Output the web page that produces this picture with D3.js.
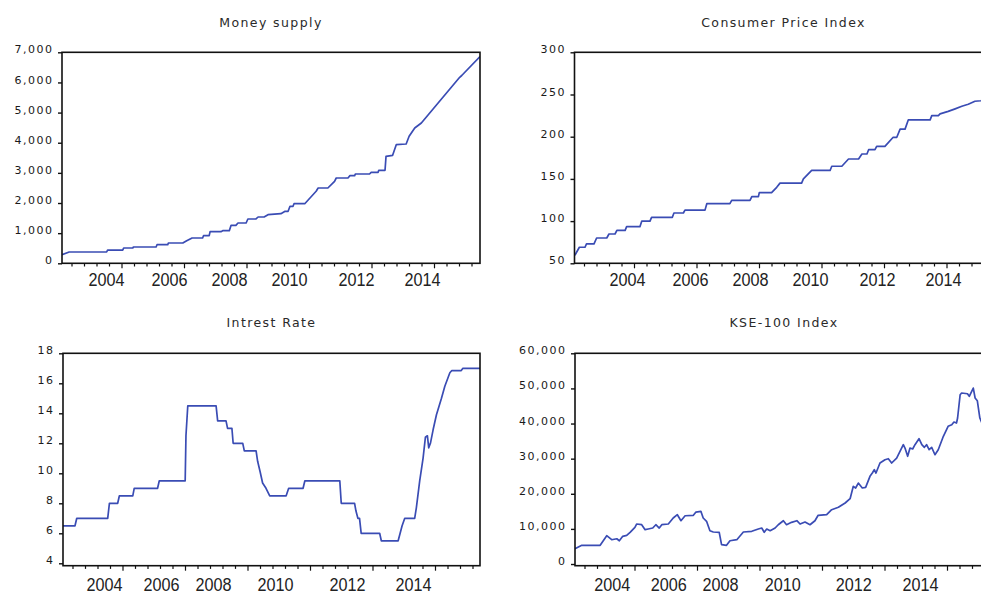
<!DOCTYPE html>
<html>
<head>
<meta charset="utf-8">
<script src="https://cdn.jsdelivr.net/npm/d3@7"></script>
<style>
  html, body { margin: 0; padding: 0; background: #fff; }
  svg { display: block; }
</style>
</head>
<body>
<svg id="chart" width="981" height="594"></svg>
<script>
// ---------------- DATA ----------------
const yearLabels = [2004, 2006, 2008, 2010, 2012, 2014];
const yearAnchors = [2002.6, 2004, 2006, 2008, 2010, 2012, 2014, 2016];

const moneyYears = [2002.6, 2002.83, 2004.02, 2004.05, 2004.53, 2004.56, 2004.85, 2004.87, 2005.59, 2005.62,
  2005.96, 2005.98, 2006.46, 2006.59, 2006.77, 2007.12, 2007.15, 2007.34, 2007.37, 2007.73,
  2007.79, 2008.01, 2008.07, 2008.23, 2008.3, 2008.57, 2008.63, 2008.9, 2008.97, 2009.17,
  2009.3, 2009.73, 2009.87, 2009.97, 2010.03, 2010.12, 2010.15, 2010.47, 2010.81, 2010.87,
  2011.16, 2011.36, 2011.41, 2011.76, 2011.82, 2011.96, 2011.98, 2012.41, 2012.46, 2012.67,
  2012.69, 2012.88, 2012.91, 2013.11, 2013.22, 2013.52, 2013.61, 2013.78, 2013.98, 2015.3,
  2015.37, 2016.0];
const moneyValues = [285, 375, 375, 440, 440, 507, 507, 540, 540, 617,
  617, 673, 673, 750, 840, 840, 916, 916, 1050, 1050,
  1082, 1082, 1260, 1260, 1337, 1337, 1470, 1470, 1536, 1536,
  1612, 1646, 1725, 1725, 1891, 1891, 1977, 1977, 2389, 2498,
  2498, 2720, 2830, 2830, 2907, 2907, 2963, 2963, 3019, 3019,
  3086, 3086, 3550, 3583, 3935, 3958, 4213, 4489, 4655, 6171,
  6230, 6860];

const cpiYears = [2002.61, 2002.73, 2002.88, 2002.92, 2003.12, 2003.19, 2003.46, 2003.52, 2003.68, 2003.73,
  2003.95, 2003.99, 2004.41, 2004.47, 2004.73, 2004.78, 2005.44, 2005.49, 2005.79, 2005.84,
  2006.5, 2006.56, 2007.33, 2007.39, 2008.0, 2008.06, 2008.28, 2008.31, 2008.72, 2008.89,
  2009.0, 2009.72, 2009.78, 2010.05, 2010.6, 2010.65, 2010.95, 2011.15, 2011.45, 2011.55,
  2011.7, 2011.75, 2011.94, 2011.99, 2012.24, 2012.49, 2012.6, 2012.7, 2012.85, 2012.95,
  2013.61, 2013.66, 2013.86, 2013.91, 2014.21, 2014.49, 2014.76, 2015.02, 2015.29, 2015.53, 2016.0];
const cpiValues = [59.5, 69, 69, 73, 73, 80, 80, 84.7, 84.7, 89,
  89, 93.4, 93.4, 100, 100, 104.5, 104.5, 109.6, 109.6, 113,
  113, 120.6, 120.6, 124.6, 124.6, 129, 129, 133.7, 133.7, 140,
  145, 145, 150, 160, 160, 165, 165, 173.6, 173.6, 179.5,
  179.5, 184.6, 184.6, 188.6, 188.6, 199.3, 199.3, 209, 209, 220,
  220, 225, 225, 227, 230, 233, 236, 238.5, 242, 242.6, 245];

const rateYears = [2002.6, 2003.01, 2003.07, 2004.13, 2004.19, 2004.48, 2004.54, 2005.01, 2005.06, 2005.88,
  2005.94, 2006.93, 2006.96, 2007.03, 2008.1, 2008.15, 2008.42, 2008.47, 2008.61, 2008.65,
  2008.96, 2009.01, 2009.39, 2009.44, 2009.52, 2009.6, 2009.71, 2009.83, 2010.31, 2010.38,
  2010.78, 2010.83, 2011.8, 2011.84, 2012.23, 2012.27, 2012.33, 2012.38, 2012.43, 2012.99,
  2013.04, 2013.55, 2013.61, 2013.67, 2013.75, 2014.05, 2014.1, 2014.2, 2014.3, 2014.37,
  2014.43, 2014.47, 2014.52, 2014.6, 2014.7, 2014.85, 2014.95, 2015.1, 2015.16, 2015.44,
  2015.49, 2016.0];
const rateValues = [6.5, 6.5, 7, 7, 8, 8, 8.5, 8.5, 9, 9,
  9.5, 9.5, 12.5, 14.5, 14.5, 13.5, 13.5, 13, 13, 12,
  12, 11.5, 11.5, 10.8, 10.1, 9.35, 9.0, 8.5, 8.5, 9,
  9, 9.5, 9.5, 8, 8, 7.5, 7, 7, 6, 6,
  5.5, 5.5, 6, 6.5, 7, 7, 7.7, 9.5, 11, 12.4,
  12.5, 11.7, 12, 12.9, 13.9, 15, 15.8, 16.7, 16.85, 16.85,
  17, 17];

const kseYears = [2002.6, 2002.86, 2003.56, 2003.81, 2004.0, 2004.18, 2004.27, 2004.39, 2004.53, 2004.65,
  2004.82, 2004.88, 2005.06, 2005.18, 2005.29, 2005.45, 2005.56, 2005.68, 2005.77, 2006.0,
  2006.19, 2006.35, 2006.49, 2006.65, 2006.97, 2007.07, 2007.26, 2007.35, 2007.48, 2007.61,
  2007.74, 2007.97, 2008.05, 2008.21, 2008.32, 2008.54, 2008.75, 2009.02, 2009.23, 2009.34,
  2009.42, 2009.5, 2009.61, 2009.77, 2009.87, 2010.03, 2010.12, 2010.26, 2010.41, 2010.5,
  2010.64, 2010.78, 2010.92, 2011.01, 2011.25, 2011.39, 2011.58, 2011.77, 2011.91, 2012.0,
  2012.07, 2012.15, 2012.27, 2012.37, 2012.5, 2012.57, 2012.63, 2012.68, 2012.8, 2012.95,
  2013.05, 2013.15, 2013.3, 2013.5, 2013.55, 2013.63, 2013.7, 2013.78, 2013.85, 2013.97,
  2014.05, 2014.12, 2014.18, 2014.25, 2014.32, 2014.41, 2014.5, 2014.64, 2014.77, 2014.87,
  2014.93, 2015.0, 2015.03, 2015.1, 2015.14, 2015.3, 2015.35, 2015.46, 2015.51, 2015.57,
  2015.64, 2015.78];
const kseValues = [4360, 5320, 5320, 8060, 6920, 7200, 6630, 7890, 8170, 9030,
  10450, 11390, 11190, 9770, 9970, 10250, 11190, 10250, 11190, 11390,
  13100, 14040, 12330, 13750, 13870, 14800, 15010, 13100, 12160, 9480,
  9110, 9030, 5500, 5320, 6630, 6920, 9110, 9310, 9970, 10250,
  9030, 9970, 9480, 10250, 11190, 12330, 11190, 11870, 12330, 11390,
  11960, 11190, 12330, 13870, 14040, 15460, 16150, 17370, 18600, 22120,
  21640, 23060, 21640, 21840, 24970, 25910, 26850, 25910, 28760, 29700,
  29980, 28760, 30180, 33970, 33030, 30670, 33030, 32750, 33970, 35680,
  33970, 33230, 33970, 32540, 33230, 31120, 32540, 36360, 39210, 39660,
  40430, 40150, 41570, 48210, 48690, 48490, 47750, 50110, 47270, 46500,
  41570, 38000];

const moneyTicks = [0, 1000, 2000, 3000, 4000, 5000, 6000, 7000];
const cpiTicks = [50, 100, 150, 200, 250, 300];
const rateTicks = [4, 6, 8, 10, 12, 14, 16, 18];
const kseTicks = [0, 10000, 20000, 30000, 40000, 50000, 60000];

// ---------------- LAYOUT ----------------
const panels = [
  { title: "Money supply", years: moneyYears, values: moneyValues, yTicks: moneyTicks, yDomain: [0, 7000],
    fmt: d3.format(","), left: 62, right: 480, top: 52.3, bottom: 263.3,
    labelX: [62, 106, 169, 229, 289, 356, 422, 480], titleY: 27, yearY: 286 },
  { title: "Consumer Price Index", years: cpiYears, values: cpiValues, yTicks: cpiTicks, yDomain: [50, 300],
    fmt: d3.format("d"), left: 574.5, right: 992.5, top: 52.3, bottom: 263.3,
    labelX: [574.5, 627, 690, 750, 810, 877, 943, 992.5], titleY: 27, yearY: 286 },
  { title: "Intrest Rate", years: rateYears, values: rateValues, yTicks: rateTicks, yDomain: [3.84, 18],
    fmt: d3.format("d"), left: 63, right: 480, top: 353.3, bottom: 565.7,
    labelX: [63, 104, 161, 213, 275, 347, 413, 480], titleY: 327, yearY: 591 },
  { title: "KSE-100 Index", years: kseYears, values: kseValues, yTicks: kseTicks, yDomain: [-480, 60000],
    fmt: d3.format(","), left: 575, right: 993, top: 353.3, bottom: 565.7,
    labelX: [575, 611.7, 668.3, 720, 782.3, 853.3, 920, 993], titleY: 327, yearY: 591 }
];

const lineColor = "#3a4cb4";
const svg = d3.select("#chart");

panels.forEach((p, i) => {
  const x = d3.scaleLinear().domain(yearAnchors).range(p.labelX);
  const y = d3.scaleLinear().domain(p.yDomain).range([p.bottom, p.top]);
  const g = svg.append("g");

  // title
  g.append("text")
    .attr("x", (p.left + p.right) / 2)
    .attr("y", p.titleY)
    .attr("text-anchor", "middle")
    .attr("font-family", "DejaVu Sans, sans-serif")
    .attr("font-size", 12.5)
    .attr("letter-spacing", 1.4)
    .attr("fill", "#2a2a2a")
    .text(p.title);

  // clip
  const cid = "clip" + i;
  svg.append("defs").append("clipPath").attr("id", cid)
    .append("rect").attr("x", p.left).attr("y", p.top)
    .attr("width", p.right - p.left).attr("height", p.bottom - p.top);

  // y axis
  const ya = g.append("g").attr("transform", `translate(${p.left},0)`)
    .call(d3.axisLeft(y).tickValues(p.yTicks).tickSize(4).tickPadding(4.5).tickFormat(p.fmt));
  ya.select(".domain").remove();
  ya.selectAll("line").attr("stroke", "#111").attr("stroke-width", 1.4);
  ya.selectAll("text")
    .attr("font-family", "DejaVu Sans, sans-serif")
    .attr("font-size", 11)
    .attr("letter-spacing", 1.5)
    .attr("fill", "#1a1a1a")
    .attr("dy", "0.05em");

  // minor/major x ticks (uniform observation spacing)
  const nT = (p.right - p.left) / 12.5;
  const tScale = d3.scaleLinear().domain([0, nT]).range([p.left, p.right]);
  const tIdx = d3.range(0.8, nT, 1);
  g.selectAll(".xt").data(tIdx).enter().append("line")
    .attr("x1", d => tScale(d)).attr("x2", d => tScale(d))
    .attr("y1", p.bottom).attr("y2", (d, k) => p.bottom + (k % 5 === 4 ? 5 : 3.2))
    .attr("stroke", "#111").attr("stroke-width", 1.2);

  // year labels
  const xa = g.append("g").attr("transform", `translate(0,${p.bottom})`)
    .call(d3.axisBottom(x).tickValues(yearLabels).tickSize(0).tickFormat(d3.format("d")));
  xa.select(".domain").remove();
  xa.selectAll("text")
    .attr("y", p.yearY - p.bottom)
    .attr("dy", 0)
    .attr("font-family", "Liberation Sans, Arial, sans-serif")
    .attr("font-size", 18)
    .attr("textLength", 36)
    .attr("lengthAdjust", "spacingAndGlyphs")
    .attr("fill", "#222");

  // line
  const pts = p.years.map((yr, k) => [yr, p.values[k]]);
  g.append("path")
    .datum(pts)
    .attr("clip-path", `url(#${cid})`)
    .attr("fill", "none")
    .attr("stroke", lineColor)
    .attr("stroke-width", 1.7)
    .attr("stroke-linejoin", "round")
    .attr("d", d3.line().x(d => x(d[0])).y(d => y(d[1])));

  // frame
  g.append("rect")
    .attr("x", p.left).attr("y", p.top)
    .attr("width", p.right - p.left).attr("height", p.bottom - p.top)
    .attr("fill", "none").attr("stroke", "#111").attr("stroke-width", 1.6);
});
</script>
</body>
</html>
